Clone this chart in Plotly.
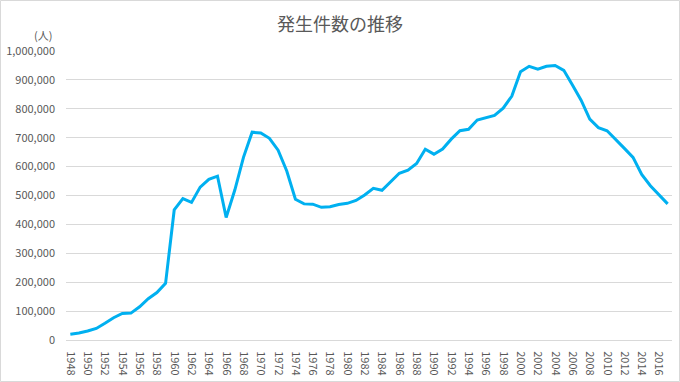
import plotly.graph_objects as go

years = list(range(1948, 2018))
cases = [
    20000, 24000, 31000, 40000, 58000, 77000, 92000, 93000, 115000, 143000,
    164000, 196000, 450000, 489000, 476000, 529000, 556000, 567000, 424000, 519000,
    632000, 719000, 716000, 698000, 657000, 585000, 487000, 471000, 470000, 459000,
    461000, 469000, 473000, 483000, 502000, 525000, 518000, 549000, 577000, 588000,
    611000, 660000, 643000, 661000, 695000, 724000, 729000, 761000, 770000, 777000,
    802000, 844000, 928000, 947000, 937000, 947000, 950000, 933000, 882000, 830000,
    764000, 735000, 724000, 692000, 663000, 632000, 573000, 534000, 502000, 471000,
]
tick_years = [str(y) for y in range(1948, 2017, 2)]
y_ticks = list(range(0, 1000001, 100000))

title_text = "発生件数の推移"
unit_text = "(人)"

W, H = 680, 382
ml, mr, mt, mb = 66, 8, 51, 42
pw, ph = W - ml - mr, H - mt - mb

txt = "#595959"
grid = "#d9d9d9"
font_fam = "Noto Sans CJK JP, Noto Sans, sans-serif"

fig = go.Figure()
fig.add_trace(go.Scatter(
    x=[str(y) for y in years], y=cases, mode="lines",
    line=dict(color="#00b0f0", width=3),
    hoverinfo="skip",
))

fig.update_layout(
    width=W, height=H,
    margin=dict(l=ml, r=mr, t=mt, b=mb, autoexpand=False),
    paper_bgcolor="white", plot_bgcolor="white",
    showlegend=False,
    font=dict(family=font_fam, color=txt, size=11),
    title=dict(text=title_text, x=0.5, xanchor="center", y=1 - 25 / H, yanchor="middle",
               font=dict(size=18, color=txt, family=font_fam)),
    xaxis=dict(
        type="category", range=[-0.5, len(years) - 0.5],
        tickmode="array", tickvals=tick_years, ticktext=tick_years,
        tickangle=90, showgrid=False, zeroline=False,
        showline=True, linecolor=grid, linewidth=1,
        ticks="", ticklabelstandoff=8, automargin=False,
        tickfont=dict(size=11, color=txt),
    ),
    yaxis=dict(
        range=[0, 1000000], tickmode="array", tickvals=y_ticks,
        tickformat=",d", showgrid=True, gridcolor=grid, gridwidth=1,
        zeroline=False, showline=False, ticks="", ticklabelstandoff=10,
        automargin=False,
        tickfont=dict(size=11, color=txt),
    ),
    shapes=[dict(
        type="rect", xref="paper", yref="paper",
        x0=-(ml - 0.5) / pw, x1=1 + (mr - 0.5) / pw,
        y0=-(mb - 0.5) / ph, y1=1 + (mt - 0.5) / ph,
        line=dict(color=grid, width=1), fillcolor="rgba(0,0,0,0)", layer="below",
    )],
    annotations=[dict(
        text=unit_text, xref="paper", yref="paper",
        x=-(ml - 54) / pw, y=1 + (mt - 35) / ph,
        xanchor="right", yanchor="middle", showarrow=False,
        font=dict(size=11, color=txt, family=font_fam),
    )],
)

fig.write_html(
    "out.html",
    config={"displayModeBar": False},
    post_script="document.body.style.margin='0';document.body.style.overflow='hidden';",
)
